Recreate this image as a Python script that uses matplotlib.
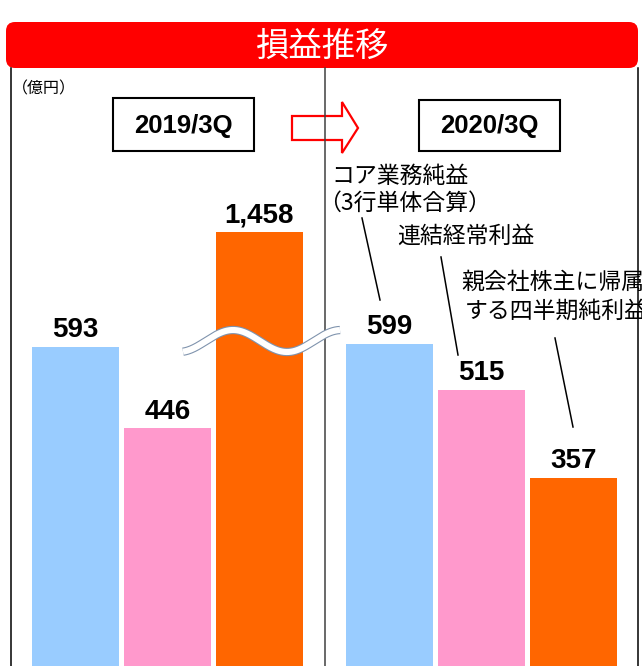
import numpy as np
import matplotlib
matplotlib.use('Agg')
import matplotlib.pyplot as plt
from matplotlib.patches import FancyBboxPatch, Rectangle, Polygon
from matplotlib.lines import Line2D

plt.rcParams['font.family'] = ['Noto Sans CJK JP', 'DejaVu Sans']

# データ（億円）
periods = ['2019/3Q', '2020/3Q']
items = ['コア業務純益', '連結経常利益', '親会社株主に帰属する四半期純利益']
values_2019 = [593, 446, 1458]
values_2020 = [599, 515, 357]
colors = ['#99CCFF', '#FF99CC', '#FF6600']

W, H = 642, 666
fig = plt.figure(figsize=(W / 100, H / 100), dpi=100)
tr = fig.dpi_scale_trans


def P(x, y):
    # 画像のピクセル座標 -> インチ
    return (x / 100, (H - y) / 100)


# 縦軸の省略（波線）用のスケール
BREAK = 600
K = 0.2343


def fwd(v):
    v = np.asarray(v, float)
    return np.where(v <= BREAK, v, BREAK + (v - BREAK) * K)


def inv(d):
    d = np.asarray(d, float)
    return np.where(d <= BREAK, d, BREAK + (d - BREAK) / K)


ax = fig.add_axes([11 / W, 0, (638 - 11) / W, (H - 70) / H])
ax.set_yscale('function', functions=(fwd, inv))
ax.axis('off')

group_gap = 3.413
bar_w = 0.946
for g, vals in enumerate([values_2019, values_2020]):
    xs = np.arange(len(vals)) + g * group_gap
    ax.bar(xs, vals, width=bar_w, color=colors, zorder=2)
    for x, v in zip(xs, vals):
        ax.annotate(f'{v:,}', (x, v), xytext=(0, 7), textcoords='offset points',
                    ha='center', va='baseline', fontsize=20, fontweight='bold',
                    family=['Liberation Sans', 'DejaVu Sans'])
ax.set_xlim(-0.701, 6.114)
ax.set_ylim(16.3, 2708)

# タイトル帯
x0, y0 = P(6, 68)
banner = FancyBboxPatch((x0, y0), (638 - 6) / 100, (68 - 22) / 100,
                        boxstyle='round,pad=0,rounding_size=0.09',
                        transform=tr, fc='#FF0000', ec='none')
fig.add_artist(banner)
fig.text(*P(322, 46), '損益推移', transform=tr, ha='center', va='center',
         color='white', fontsize=24)

# 枠線
for xl, c in [(11, 'black'), (325, '#404040'), (638, 'black')]:
    fig.add_artist(Line2D(*zip(P(xl, 68), P(xl, H)), transform=tr,
                          color=c, lw=1.1))

fig.text(*P(12, 89), '（億円）', transform=tr, ha='left', va='center',
         fontsize=11.5)

# 期間ボックス
for (bx0, by0, bx1, by1), lab in zip([(113, 98, 254, 151), (419, 100, 560, 151)], periods):
    fig.add_artist(Rectangle(P(bx0, by1), (bx1 - bx0) / 100, (by1 - by0) / 100,
                             transform=tr, fc='white', ec='black', lw=1.5))
    fig.text(*P((bx0 + bx1) / 2, (by0 + by1) / 2 + 1), lab, transform=tr,
             ha='center', va='center', fontsize=18.5, fontweight='bold',
             family=['Liberation Sans', 'DejaVu Sans'])

# 矢印
arrow_pts = [P(292, 116), P(342, 116), P(342, 102), P(358, 128),
             P(342, 153), P(342, 140), P(292, 140)]
fig.add_artist(Polygon(arrow_pts, closed=True, transform=tr, fc='none',
                       ec='#FF0000', lw=1.6))

# 波線（省略記号）
wx = np.linspace(183, 340, 200)
wy = 341 - 11 * np.cos(2 * np.pi * (wx - 233) / 108)
pts = np.array([P(a, b) for a, b in zip(wx, wy)])
fig.add_artist(Line2D(pts[:, 0], pts[:, 1], transform=tr, color='#7F93AD',
                      lw=6.0, solid_capstyle='butt', zorder=5))
fig.add_artist(Line2D(pts[:, 0], pts[:, 1], transform=tr, color='white',
                      lw=4.4, solid_capstyle='butt', zorder=6))

# 注記
fs = 16.5
fig.text(*P(331, 176), items[0], transform=tr, ha='left', va='center', fontsize=fs)
fig.text(*P(318, 203), '（3行単体合算）', transform=tr, ha='left', va='center', fontsize=fs)
fig.text(*P(397, 236), items[1], transform=tr, ha='left', va='center', fontsize=fs)
fig.text(*P(461, 282), '親会社株主に帰属', transform=tr, ha='left', va='center', fontsize=fs)
fig.text(*P(465, 311), 'する四半期純利益', transform=tr, ha='left', va='center', fontsize=fs)

for (a, b), (c, d) in [((362, 218), (380, 300)), ((441, 257), (458, 355)),
                       ((555, 338), (573, 427))]:
    fig.add_artist(Line2D(*zip(P(a, b), P(c, d)), transform=tr,
                          color='black', lw=1.1))

fig.savefig('out.png', dpi=100)
